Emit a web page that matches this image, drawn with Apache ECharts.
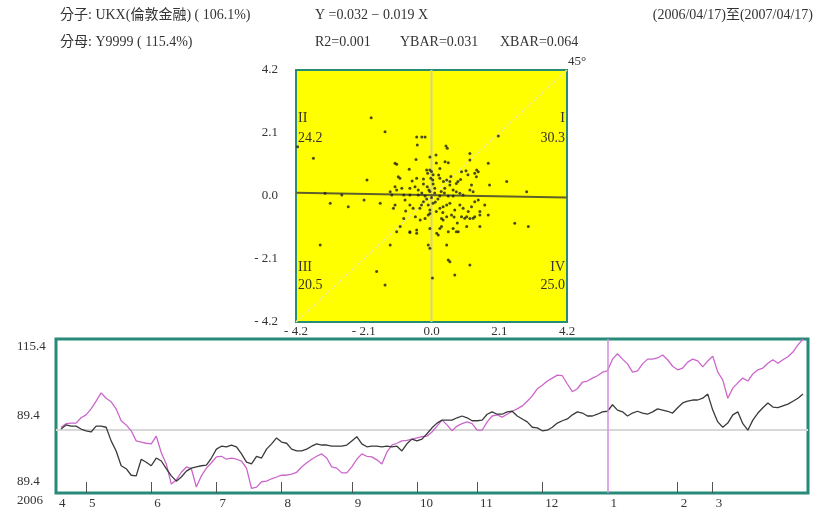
<!DOCTYPE html>
<html><head><meta charset="utf-8">
<script src="https://cdn.jsdelivr.net/npm/echarts@6/dist/echarts.min.js"></script>
<style>html,body{margin:0;padding:0;background:#fff}#c{width:826px;height:522px}</style>
</head><body><div id="c"></div>
<script>
// ---- header texts ----
const numerText = '分子: UKX(倫敦金融) ( 106.1%)';
const denomText = '分母: Y9999 ( 115.4%)';
const eqText = 'Y =0.032 − 0.019 X';
const statTexts = ['R2=0.001', 'YBAR=0.031', 'XBAR=0.064'];
const periodText = '(2006/04/17)至(2007/04/17)';
const regA = 0.032, regB = -0.019;
const quadNames = ['I', 'II', 'III', 'IV'];
const quadPct = ['30.3', '24.2', '20.5', '25.0'];

// ---- scatter (daily % change: x = Y9999, y = UKX) ----
const scatterX = [-1.44,-0.46,-0.30,-0.20,-0.44,0.45,0.49,0.14,1.19,2.07,-1.13,-1.08,-0.48,0.42,0.52,1.19,1.76,-0.69,-0.15,-0.05,0.26,0.93,1.07,1.40,1.45,-2.00,-1.03,-0.98,-0.46,-0.12,0.00,0.05,-0.02,0.04,-0.25,0.26,0.37,0.47,0.57,0.77,0.82,1.13,1.34,1.39,1.24,1.19,1.29,1.80,2.33,-1.13,-1.08,-0.92,-0.67,-0.51,-0.41,-0.13,-0.08,0.10,0.41,0.57,0.67,0.77,0.88,0.98,-1.28,-1.23,-0.86,-0.67,-0.41,-0.20,0.00,0.26,0.52,0.67,-2.09,-1.59,-1.18,-1.13,-0.82,-0.67,-0.57,-0.36,-0.31,-0.25,-0.10,-0.05,0.05,0.15,0.26,0.36,0.47,0.57,0.72,0.88,0.98,1.14,1.24,1.34,1.45,1.65,1.50,1.09,1.19,1.34,1.76,-0.86,-0.50,-0.35,-0.20,-0.10,-0.05,0.31,0.36,0.47,0.62,0.31,0.26,0.52,0.67,0.77,1.09,1.50,2.58,-0.97,-1.08,-0.67,-0.46,-0.05,0.21,-1.28,-0.10,-0.05,0.47,0.52,0.57,1.19,-1.70,0.03,0.72,-1.87,-4.15,-3.66,2.95,-3.30,-2.78,-3.14,-2.58,3.00,-3.45,-1.44,-0.46,-0.67,0.16,0.83,0.93,1.03,1.29,1.50,0.10,-0.05,0.20,-0.15,0.30,0.12,-0.30,0.05,0.40,-0.25,0.22,0.60,0.70,-0.60,0.90,-0.80,0.35,0.15,-0.05,0.80];
const scatterY = [2.14,1.97,1.97,1.97,1.70,1.67,1.59,1.37,1.42,2.00,1.09,1.06,1.22,1.14,1.11,1.20,1.09,0.89,0.87,0.87,0.92,0.81,0.84,0.87,0.81,0.53,0.64,0.59,0.59,0.76,0.82,0.71,0.59,0.53,0.57,0.59,0.48,0.53,0.48,0.42,0.48,0.71,0.76,0.64,0.37,0.20,0.14,0.37,0.48,0.31,0.20,0.26,0.26,0.31,0.20,0.31,0.20,0.26,0.26,0.37,0.20,0.14,0.09,0.03,0.14,0.03,0.03,0.03,0.03,0.00,-0.05,0.00,0.00,0.00,-0.13,-0.24,-0.41,-0.30,-0.13,-0.30,-0.41,-0.41,-0.30,-0.19,-0.30,-0.47,-0.24,-0.52,-0.41,-0.36,-0.30,-0.24,-0.47,-0.30,-0.41,-0.52,-0.36,-0.19,-0.13,-0.30,-0.52,-0.69,-0.75,-0.69,-0.63,-0.75,-0.69,-0.80,-0.75,-0.63,-0.58,-0.75,-0.80,-0.69,-0.63,-1.02,-1.08,-1.19,-1.08,-1.19,-1.02,-1.02,-0.91,-1.02,-1.19,-1.19,-1.13,-1.08,-1.30,-1.63,-1.63,-1.74,-1.63,-2.13,-2.19,-2.30,-2.52,-2.73,-2.63,2.61,1.64,1.26,0.14,0.09,0.03,-0.24,-0.36,-1.02,-1.63,-2.97,-1.24,-1.22,-1.24,-1.19,-0.69,-0.74,-0.74,-0.63,0.10,0.15,-0.10,-0.10,0.15,-0.20,0.10,0.40,0.10,0.40,0.70,0.65,-0.70,0.50,0.55,-0.50,-0.55,1.10,1.30,-0.90];

// ---- bottom chart: relative index (start = 100) ----
const ukx = [100.2,100.9,100.7,100.7,100.2,99.9,99.7,100.7,100.7,100.5,
98.2,96.5,94.0,93.5,92.4,92.3,95.1,94.6,94.0,95.3,
94.8,93.5,92.3,91.4,92.1,93.1,93.6,93.8,94.0,94.1,
95.3,96.8,97.3,97.2,97.5,97.2,96.0,94.6,94.3,95.6,
95.3,96.8,97.7,98.7,98.0,97.8,96.8,96.5,96.5,96.8,
97.3,97.7,97.5,97.5,97.3,97.3,97.3,97.5,98.2,98.9,
97.7,97.2,97.3,97.3,97.2,97.3,97.2,97.3,96.5,97.7,
98.5,98.2,98.5,99.4,100.4,101.2,101.7,101.7,101.7,102.1,
102.4,102.1,101.6,101.6,101.7,102.7,103.1,102.7,102.7,103.1,
103.2,102.4,101.9,101.4,100.5,100.4,99.9,100.0,100.5,101.2,
101.6,101.9,102.6,103.1,102.9,102.4,102.4,102.7,103.1,103.2,
104.3,103.4,103.1,102.4,102.9,103.2,102.9,102.7,103.1,103.6,
103.4,103.2,102.9,103.8,104.6,104.9,105.1,105.1,105.4,106.1,
103.4,101.4,100.5,101.2,102.6,103.1,101.1,100.0,101.7,102.9,
103.8,104.6,103.9,103.8,104.1,104.4,104.9,105.4,106.1];
const y9999 = [100.5,101.1,101.2,101.2,102.1,102.6,103.6,104.9,106.3,105.4,
104.8,103.6,101.6,100.9,99.9,98.2,98.0,97.8,97.7,99.0,
96.2,94.3,90.9,91.6,92.9,93.8,93.5,90.4,92.3,93.6,
94.5,95.5,95.6,95.1,95.3,95.1,94.8,93.6,90.2,90.4,
91.3,91.4,91.8,92.1,92.4,92.4,92.6,92.9,93.8,94.5,
95.1,95.6,96.0,95.3,93.8,93.6,92.8,92.8,93.8,95.1,
96.0,95.6,95.5,95.0,94.3,96.3,97.5,97.8,98.2,98.3,
98.5,98.7,98.9,99.0,99.7,100.7,101.7,100.9,99.9,100.7,
101.1,101.4,101.1,100.0,100.0,101.4,102.4,102.6,102.2,102.7,
103.2,103.6,104.1,104.9,105.8,107.0,107.6,108.3,108.8,109.3,
109.2,107.8,106.5,107.0,108.1,108.3,108.8,109.2,109.8,110.0,
112.0,112.9,112.0,111.2,109.8,110.0,111.2,112.0,112.0,112.2,
112.7,111.9,110.8,110.2,110.5,111.5,112.0,111.7,110.7,111.7,
112.5,109.8,108.5,105.4,107.1,108.0,108.8,108.3,109.5,110.2,
110.5,111.3,111.9,111.3,111.9,112.4,113.2,114.4,115.4];
const monthIdx = [0,6,19,32,45,59,72,84,97,110,124,131];
const monthLabels = ['4','5','6','7','8','9','10','11','12','1','2','3'];
const yearBreakIdx = 110;
const yearLabel = '2006';
const lineYTicks = ['89.4','89.4','115.4'];
const baseLevel = 100;
const yMin = 89.4, yMax = 115.4;

// ---- build ----
const nCats = ukx.length + 2;
const cats = Array.from({length: nCats}, (_, i) => 'd' + i);
const pad = a => [null].concat(a, [null]);
const FONT = '"Liberation Serif","Noto Sans CJK TC",serif';
const TEAL = '#288a78';
const TXT = '#333';
const fmtScatter = v => (v < 0 ? '- ' + (-v).toFixed(1) : v.toFixed(1));
const scatterData = scatterX.map((x, i) => [x, scatterY[i]]);

function txt(text, x, y, align, size) {
  return { type: 'text', x: x, y: y, silent: true, z: 100,
    style: { text: text, fill: TXT, font: (size || 14) + 'px ' + FONT, align: align || 'left', verticalAlign: 'middle' } };
}

const chart = echarts.init(document.getElementById('c'), null, {renderer: 'canvas'});
chart.setOption({
  animation: false,
  backgroundColor: '#fff',
  grid: [
    {left: 296, top: 70, width: 271, height: 252, show: true, backgroundColor: '#ffff00', borderColor: TEAL, borderWidth: 2},
    {left: 56, top: 339, width: 752, height: 154, show: true, backgroundColor: '#fff', borderColor: TEAL, borderWidth: 3}
  ],
  xAxis: [
    {gridIndex: 0, type: 'value', min: -4.2, max: 4.2, interval: 2.1,
      axisLine: {show: false}, axisTick: {show: false}, splitLine: {show: false},
      axisLabel: {margin: 3, color: TXT, fontFamily: FONT, fontSize: 13, formatter: fmtScatter}},
    {gridIndex: 1, type: 'category', data: cats, boundaryGap: false,
      axisLine: {show: false},
      axisTick: {show: true, inside: true, length: 11, lineStyle: {color: '#555', width: 1},
        interval: (i) => monthIdx.includes(i) && i !== 0 && i !== yearBreakIdx},
      axisLabel: {margin: 4, color: TXT, fontFamily: FONT, fontSize: 13, align: 'left', padding: [0, 0, 0, 3],
        interval: (i) => monthIdx.includes(i),
        formatter: (v, i) => { const k = monthIdx.indexOf(i); return k >= 0 ? monthLabels[k] : ''; }},
      splitLine: {show: false}}
  ],
  yAxis: [
    {gridIndex: 0, type: 'value', min: -4.2, max: 4.2, interval: 2.1,
      axisLine: {show: false}, axisTick: {show: false}, splitLine: {show: false},
      axisLabel: {margin: 18, color: TXT, fontFamily: FONT, fontSize: 13, formatter: fmtScatter}},
    {gridIndex: 1, type: 'value', min: yMin, max: yMax, interval: 13,
      axisLine: {show: false}, axisTick: {show: false}, splitLine: {show: false},
      axisLabel: {margin: 39, align: 'left', color: TXT, fontFamily: FONT, fontSize: 13,
        formatter: v => { const k = Math.round((v - yMin) / 13); const s = lineYTicks[k]; return k === 0 ? '{b|' + s + '}' : (k === 2 ? '{t|' + s + '}' : s); },
        rich: {b: {padding: [0, 0, 22, 0], fontFamily: FONT, fontSize: 13, color: TXT}, t: {padding: [16, 0, 0, 0], fontFamily: FONT, fontSize: 13, color: TXT}}}}
  ],
  series: [
    {type: 'line', xAxisIndex: 0, yAxisIndex: 0, data: [[-4.2, -4.2], [4.2, 4.2]], symbol: 'none', silent: true,
      lineStyle: {color: '#ece6a6', width: 1.5, type: [2, 2]}, z: 1},
    {type: 'line', xAxisIndex: 0, yAxisIndex: 0, data: [[0, -4.2], [0, 4.2]], symbol: 'none', silent: true,
      lineStyle: {color: '#d9d28a', width: 2}, z: 2},
    {type: 'line', xAxisIndex: 0, yAxisIndex: 0, data: [[-4.2, regA + regB * -4.2], [4.2, regA + regB * 4.2]], symbol: 'none', silent: true,
      lineStyle: {color: '#5f5f2c', width: 2}, z: 3},
    {type: 'scatter', xAxisIndex: 0, yAxisIndex: 0, data: scatterData, symbolSize: 3,
      itemStyle: {color: '#1f1f1f'}, z: 5},
    // year-break vertical line
    {type: 'line', xAxisIndex: 1, yAxisIndex: 1, data: [], symbol: 'none', silent: true, z: 2,
      lineStyle: {color: '#cc77dd'}, itemStyle: {color: '#cc77dd'},
      markLine: {symbol: 'none', silent: true, label: {show: false},
        lineStyle: {color: '#d48ee0', width: 1.5, type: 'solid', opacity: 1},
        data: [[{coord: [cats[yearBreakIdx], yMin]}, {coord: [cats[yearBreakIdx], yMax]}]]}},
    {type: 'line', xAxisIndex: 1, yAxisIndex: 1, data: pad(ukx), symbol: 'none', connectNulls: false,
      lineStyle: {color: '#3a3a3a', width: 1.3}, z: 4,
      markLine: {symbol: 'none', silent: true, label: {show: false}, lineStyle: {color: '#d8d8d8', width: 2, type: 'solid'},
        data: [{yAxis: baseLevel}], z: 1}},
    {type: 'line', xAxisIndex: 1, yAxisIndex: 1, data: pad(y9999), symbol: 'none', connectNulls: false,
      lineStyle: {color: '#cc66cc', width: 1.3}, z: 3}
  ],
  graphic: [
    txt(numerText, 60, 15), txt(denomText, 60, 42),
    txt(eqText, 315, 15),
    txt(statTexts[0], 315, 42), txt(statTexts[1], 400, 42), txt(statTexts[2], 500, 42),
    txt(periodText, 813, 15, 'right'),
    txt('45°', 568, 62, 'left', 13),
    txt(quadNames[1], 298, 118), txt(quadPct[1], 298, 138),
    txt(quadNames[0], 565, 118, 'right'), txt(quadPct[0], 565, 138, 'right'),
    txt(quadNames[2], 298, 267), txt(quadPct[2], 298, 285),
    txt(quadNames[3], 565, 267, 'right'), txt(quadPct[3], 565, 285, 'right'),
    txt(yearLabel, 17, 501, 'left', 13)
  ]
});
</script>
</body></html>
